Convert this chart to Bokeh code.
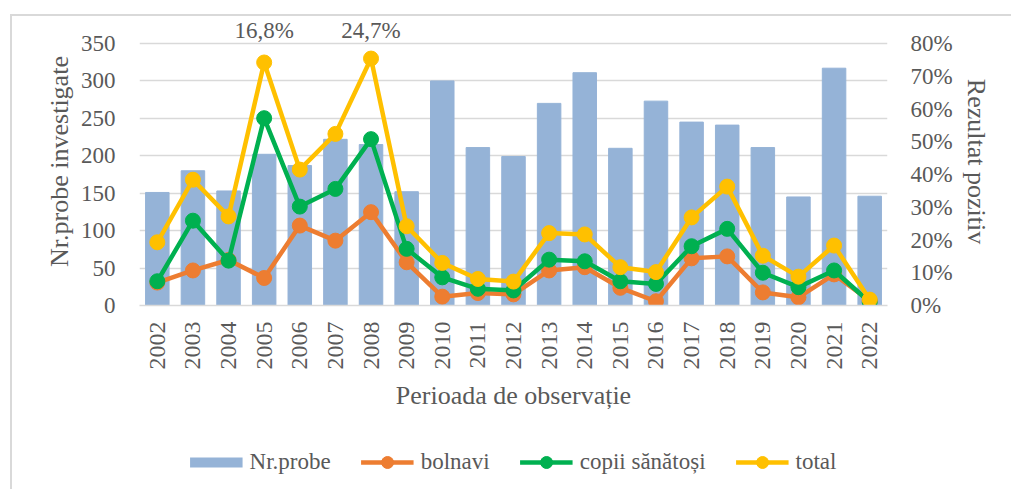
import math
from bokeh.plotting import figure
from bokeh.layouts import column
from bokeh.models import (ColumnDataSource, FactorRange, Range1d, LinearAxis,
                          NumeralTickFormatter, SingleIntervalTicker, Legend,
                          LegendItem, LabelSet)
from bokeh.embed import file_html
from bokeh.resources import INLINE

years = [str(y) for y in range(2002, 2023)]
nr_probe = [151, 180, 153, 202, 187, 222, 215, 152, 300, 211, 199, 270, 311, 210, 273, 245, 241, 211, 145, 317, 146]
bolnavi = [7.0, 10.7, 13.9, 8.4, 24.4, 19.8, 28.5, 13.2, 2.7, 3.8, 3.4, 10.7, 11.7, 5.4, 1.3, 14.4, 15.0, 4.0, 2.5, 9.5, 1.5]
copii = [7.4, 25.9, 13.7, 57.2, 30.2, 35.6, 50.8, 17.3, 8.6, 5.1, 4.6, 14.0, 13.5, 7.4, 6.6, 18.1, 23.4, 10.0, 5.6, 10.7, 1.0]
total = [19.3, 38.4, 27.2, 74.2, 41.5, 52.4, 75.4, 24.2, 13.0, 8.1, 7.3, 22.1, 21.7, 11.7, 10.2, 26.9, 36.3, 15.2, 8.8, 18.3, 1.8]
ann_years = ["2005", "2008"]
ann_text = ["16,8%", "24,7%"]
legend_labels = ["Nr.probe", "bolnavi", "copii sănătoși", "total"]

FONT = "Liberation Serif"
TXT = "#595959"
GRID = "#d9d9d9"
BAR = "#95b3d7"
COLORS = ["#ed7d31", "#00b050", "#ffc000"]

# layout (canvas pixels; content origin at page (12, 16))
W = 999
H1 = 405
H2 = 68
MB_L, MB_R, MB_T, MB_B = 127, 124, 1, 116
frame_h = H1 - MB_T - MB_B
left_end = 350 * frame_h / 262.0      # 0..350 spans 262 px; room above for labels
right_end = 0.8 * left_end / 350

src = ColumnDataSource(dict(
    year=years, nr=nr_probe,
    bol=[v / 100 for v in bolnavi],
    cop=[v / 100 for v in copii],
    tot=[v / 100 for v in total],
))

p = figure(x_range=FactorRange(*years, range_padding=0), y_range=Range1d(0, left_end),
           width=W, height=H1, output_backend="svg", toolbar_location=None,
           min_border_left=MB_L, min_border_right=MB_R, min_border_top=MB_T,
           min_border_bottom=MB_B)
p.extra_y_ranges = {"pct": Range1d(0, right_end)}
p.outline_line_color = None
p.xgrid.grid_line_color = None
p.ygrid.grid_line_color = GRID
p.ygrid.grid_line_width = 1.3

p.vbar(x="year", top="nr", width=0.66, source=src, color=BAR)
for col, color in zip(["bol", "cop", "tot"], COLORS):
    p.line("year", col, source=src, y_range_name="pct", line_color=color, line_width=4.5)
    p.scatter("year", col, source=src, y_range_name="pct", size=15, color=color)

# axes
xa = p.xaxis[0]
xa.axis_line_color = GRID
xa.axis_line_width = 1.5
xa.major_tick_line_color = None
xa.minor_tick_line_color = None
xa.major_label_orientation = math.pi / 2
xa.major_label_standoff = 10
xa.major_label_text_font = FONT
xa.major_label_text_font_size = "24px"
xa.major_label_text_color = TXT
xa.axis_label = "Perioada de observație"
xa.axis_label_text_font = FONT
xa.axis_label_text_font_size = "26px"
xa.axis_label_text_font_style = "normal"
xa.axis_label_text_color = TXT
xa.axis_label_standoff = 8

ya = p.yaxis[0]
ya.ticker = SingleIntervalTicker(interval=50, num_minor_ticks=0)
ya.axis_line_color = None
ya.major_tick_line_color = None
ya.minor_tick_line_color = None
ya.major_label_standoff = 18
ya.major_label_text_font = FONT
ya.major_label_text_font_size = "23px"
ya.major_label_text_color = TXT
ya.axis_label = "Nr.probe investigate"
ya.axis_label_text_font = FONT
ya.axis_label_text_font_size = "26px"
ya.axis_label_text_font_style = "normal"
ya.axis_label_text_color = TXT
ya.axis_label_standoff = 4

ra = LinearAxis(y_range_name="pct", ticker=SingleIntervalTicker(interval=0.1, num_minor_ticks=0),
                formatter=NumeralTickFormatter(format="0%"))
ra.axis_line_color = None
ra.major_tick_line_color = None
ra.minor_tick_line_color = None
ra.major_label_standoff = 17
ra.major_label_text_font = FONT
ra.major_label_text_font_size = "23px"
ra.major_label_text_color = TXT
ra.axis_label = "Rezultat pozitiv"
ra.axis_label_text_font = FONT
ra.axis_label_text_font_size = "26px"
ra.axis_label_text_font_style = "normal"
ra.axis_label_text_color = TXT
ra.axis_label_standoff = 6
p.add_layout(ra, "right")

# annotations above the peaks (baseline on the top gridline)
ann_src = ColumnDataSource(dict(x=ann_years, y=[350] * len(ann_years), t=ann_text))
p.add_layout(LabelSet(x="x", y="y", text="t", source=ann_src, text_align="center",
                      text_baseline="bottom", y_offset=1, text_font=FONT,
                      text_font_size="23px", text_color=TXT))

# legend in its own strip below the chart (proxy glyphs lie outside its visible ranges)
q = figure(width=W, height=H2, output_backend="svg", toolbar_location=None,
           x_axis_type=None, y_axis_type=None, x_range=Range1d(0, 1), y_range=Range1d(0, 1),
           min_border_left=19, min_border_right=0, min_border_top=14, min_border_bottom=0)
q.outline_line_color = None
q.xgrid.grid_line_color = None
q.ygrid.grid_line_color = None
proxy = ColumnDataSource(dict(x=[-5, -4], y=[-5, -4]))
items = [LegendItem(label=legend_labels[0],
                    renderers=[q.line("x", "y", source=proxy, line_color=BAR, line_width=10,
                                      line_cap="butt")])]
for lab, color in zip(legend_labels[1:], COLORS):
    lr = q.line("x", "y", source=proxy, line_color=color, line_width=4.5)
    sr = q.scatter("x", "y", source=proxy, color=color, size=15)
    items.append(LegendItem(label=lab, renderers=[lr, sr]))
legend = Legend(items=items, orientation="horizontal", location="center",
                glyph_width=53, glyph_height=30, label_standoff=7, spacing=30,
                padding=0, margin=0, border_line_color=None, background_fill_alpha=0,
                label_text_font=FONT, label_text_font_size="23px", label_text_color=TXT)
q.add_layout(legend, "center")

lay = column(p, q, spacing=0)
lay.styles = {"margin-left": "10px", "margin-top": "14px",
              "border-left": "2px solid #d9d9d9", "border-top": "2px solid #d9d9d9"}

open("out.html", "w").write(file_html(lay, INLINE))
